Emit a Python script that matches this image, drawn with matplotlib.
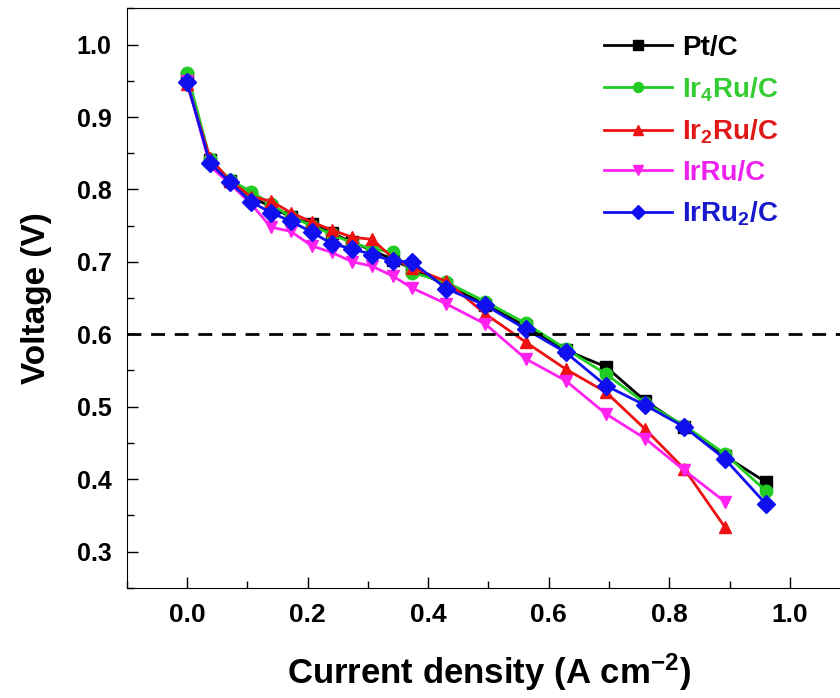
import matplotlib
matplotlib.use("Agg")
import matplotlib.pyplot as plt
from matplotlib.ticker import MultipleLocator

plt.rcParams["font.family"] = ["Liberation Sans", "DejaVu Sans"]
plt.rcParams["mathtext.default"] = "regular"

# current density (A cm-2)
current = [0.0, 0.038, 0.071, 0.106, 0.139, 0.172, 0.207, 0.240, 0.274, 0.307,
           0.342, 0.373, 0.430, 0.495, 0.562, 0.628, 0.695, 0.760, 0.825, 0.892, 0.960]

# voltage (V)
pt_c = [0.955, 0.840, 0.812, 0.790, 0.776, 0.762, 0.752, 0.740, 0.727, 0.716,
        0.703, 0.690, 0.668, 0.641, 0.611, 0.578, 0.555, 0.508, 0.472, 0.432, 0.396]
ir4ru_c = [0.961, 0.842, 0.813, 0.797, 0.780, 0.762, 0.750, 0.738, 0.726, 0.718,
           0.713, 0.685, 0.672, 0.645, 0.615, 0.580, 0.545, 0.505, 0.474, 0.435, 0.384]
ir2ru_c = [0.945, 0.843, 0.812, 0.790, 0.784, 0.768, 0.755, 0.744, 0.734, 0.731,
           0.705, 0.692, 0.673, 0.628, 0.589, 0.552, 0.520, 0.469, 0.414, 0.334]
irru_c = [0.950, 0.832, 0.808, 0.780, 0.748, 0.742, 0.722, 0.713, 0.700, 0.694,
          0.680, 0.664, 0.642, 0.614, 0.566, 0.536, 0.490, 0.456, 0.412, 0.369]
irru2_c = [0.948, 0.836, 0.810, 0.783, 0.768, 0.756, 0.741, 0.725, 0.718, 0.710,
           0.701, 0.700, 0.663, 0.640, 0.607, 0.575, 0.529, 0.502, 0.472, 0.428, 0.366]

series = [
    ("Pt/C", pt_c, "black", "s"),
    ("Ir$_4$Ru/C", ir4ru_c, "#22cc22", "o"),
    ("Ir$_2$Ru/C", ir2ru_c, "#ee1111", "^"),
    ("IrRu/C", irru_c, "#ff22ee", "v"),
    ("IrRu$_2$/C", irru2_c, "#1010ee", "D"),
]
text_colors = ["black", "#33cc33", "#e01818", "#ee22ee", "#1818cc"]

fig = plt.figure(figsize=(8.4, 6.98), dpi=100)
ax = fig.add_axes([0.151, 0.158, 0.861, 0.830])

for name, volts, color, marker in series:
    ax.plot(current[:len(volts)], volts, color=color, marker=marker,
            markersize=9, linewidth=2, label=name)

ax.axhline(0.6, color="black", linestyle=(0, (5, 3.5)), linewidth=2)

ax.set_xlim(-0.1, 1.1)
ax.set_ylim(0.25, 1.05)
ax.xaxis.set_major_locator(MultipleLocator(0.2))
ax.xaxis.set_minor_locator(MultipleLocator(0.1))
ax.yaxis.set_major_locator(MultipleLocator(0.1))
ax.yaxis.set_minor_locator(MultipleLocator(0.05))
ax.tick_params(which="both", direction="in", width=1)
ax.tick_params(which="major", length=8)
ax.tick_params(which="minor", length=5)
ax.tick_params(axis="y", labelsize=18, pad=11)
ax.tick_params(axis="x", labelsize=19, pad=11)
for lab in ax.get_xticklabels() + ax.get_yticklabels():
    lab.set_fontweight("bold")
ax.spines["right"].set_visible(False)

ax.set_xlabel("Current density (A cm$^{-2}$)", fontsize=25, fontweight="bold", labelpad=18)
ax.set_ylabel("Voltage (V)", fontsize=24, fontweight="bold", labelpad=18)

leg = ax.legend(loc="upper right", bbox_to_anchor=(0.935, 0.997), frameon=False,
                prop={"size": 20, "weight": "bold"}, handlelength=2.45,
                handletextpad=0.35, labelspacing=0.5, markerscale=0.8)
for text, color in zip(leg.get_texts(), text_colors):
    text.set_color(color)

fig.savefig("out.png", dpi=100)
